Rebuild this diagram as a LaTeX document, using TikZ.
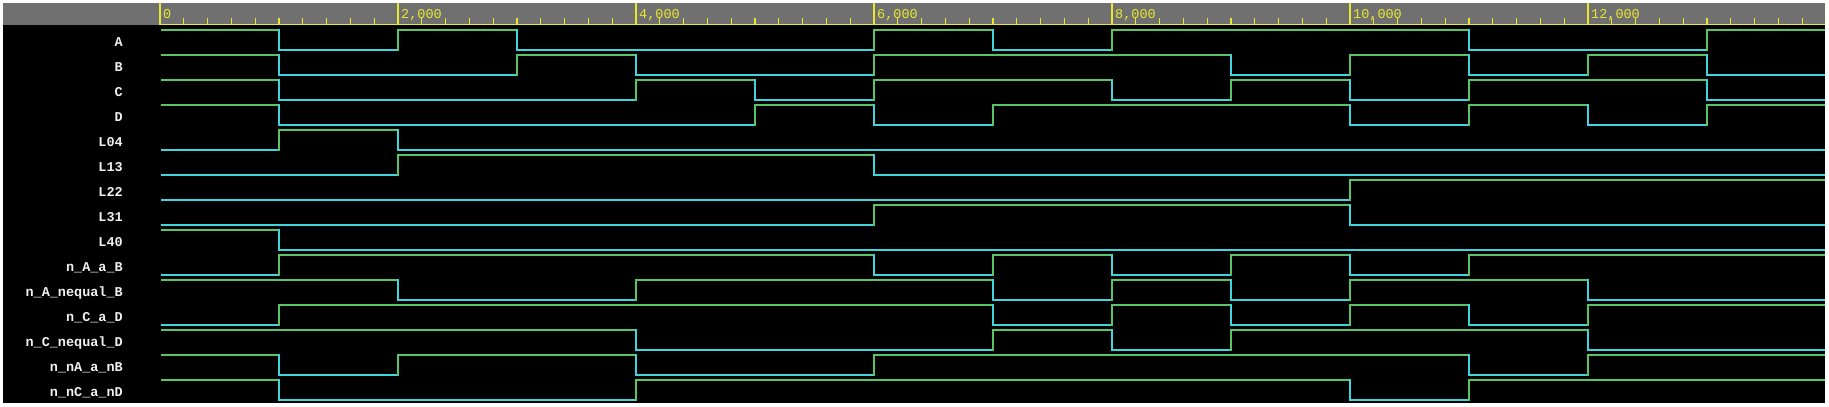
\documentclass[tikz,border=0pt]{standalone}
\usepackage{fontspec}
\newfontfamily\wavefont{Liberation Mono}
\definecolor{hicol}{RGB}{88,196,100}
\definecolor{locol}{RGB}{64,212,220}
\definecolor{rulergray}{RGB}{112,112,112}
\definecolor{ruleryellow}{RGB}{232,232,48}
\definecolor{labwhite}{RGB}{240,240,240}
\tikzset{
  hiline/.style={draw=hicol, line width=1.3pt, line cap=rect},
  loline/.style={draw=locol, line width=1.3pt, line cap=rect},
  sigtext/.style={anchor=base east, text=labwhite, font=\wavefont\bfseries\fontsize{13.5}{14}\selectfont, inner sep=0pt},
  rulertext/.style={anchor=base west, text=ruleryellow, font=\wavefont\fontsize{13.5}{14}\selectfont, inner sep=0pt},
  minortick/.style={draw=ruleryellow, line width=1.2pt},
  majortick/.style={draw=ruleryellow, line width=1.6pt}
}
\newcommand\drawwave[2]{%
  \foreach \b [count=\i from 0, remember=\b as \p (initially 9)] in {#2} {
    \pgfmathsetmacro\xa{160+119*\i}
    \pgfmathsetmacro\xb{160+119*(\i+1)}
    \pgfmathsetmacro\yh{30+25*#1}
    \pgfmathsetmacro\yl{50+25*#1}
    \ifnum\b=1 \draw[hiline] (\xa,\yh) -- (\xb,\yh); \else \draw[loline] (\xa,\yl) -- (\xb,\yl); \fi
    \ifnum\p<2 \ifnum\p=\b\else
      \ifnum\b=1 \draw[hiline] (\xa,\yl) -- (\xa,\yh); \else \draw[loline] (\xa,\yh) -- (\xa,\yl); \fi
    \fi\fi
  }}
\begin{document}
\begin{tikzpicture}[x=1pt, y=-1pt]
  \useasboundingbox (0,0) rectangle (1829,407);
  \fill[white] (0,0) rectangle (1829,407);
  \fill[black] (3,3) rectangle (1825,403);
  \fill[rulergray] (3,3) rectangle (1825,25);
  % ruler
  \begin{scope}
    \clip (3,3) rectangle (1825,403);
    \foreach \t in {0,...,70} {
      \pgfmathsetmacro\xt{160+23.8*\t}
      \draw[minortick] (\xt,18) -- (\xt,25);
    }
    \foreach \t in {0,...,7} {
      \pgfmathsetmacro\xt{160+238*\t}
      \draw[majortick] (\xt,3) -- (\xt,25);
    }
    \draw[majortick] (160,24.5) -- (1825,24.5);
  \end{scope}
  \node[rulertext] (r0) at (163,18.3) {0};
  \node[rulertext] (r2) at (401,18.3) {2,000};
  \node[rulertext] (r4) at (639,18.3) {4,000};
  \node[rulertext] (r6) at (877,18.3) {6,000};
  \node[rulertext] (r8) at (1115,18.3) {8,000};
  \node[rulertext] (r10) at (1353,18.3) {10,000};
  \node[rulertext] (r12) at (1591,18.3) {12,000};
  % labels
  \node[sigtext] (l0) at (123,46.6) {A};
  \node[sigtext] (l1) at (123,71.6) {B};
  \node[sigtext] (l2) at (123,96.6) {C};
  \node[sigtext] (l3) at (123,121.6) {D};
  \node[sigtext] (l4) at (123,146.6) {L04};
  \node[sigtext] (l5) at (123,171.6) {L13};
  \node[sigtext] (l6) at (123,196.6) {L22};
  \node[sigtext] (l7) at (123,221.6) {L31};
  \node[sigtext] (l8) at (123,246.6) {L40};
  \node[sigtext] (l9) at (123,271.6) {n\_A\_a\_B};
  \node[sigtext] (l10) at (123,296.6) {n\_A\_nequal\_B};
  \node[sigtext] (l11) at (123,321.6) {n\_C\_a\_D};
  \node[sigtext] (l12) at (123,346.6) {n\_C\_nequal\_D};
  \node[sigtext] (l13) at (123,371.6) {n\_nA\_a\_nB};
  \node[sigtext] (l14) at (123,396.6) {n\_nC\_a\_nD};
  % waves
  \begin{scope}
    \clip (161,26) rectangle (1825,403);
    \drawwave{0}{1,0,1,0,0,0,1,0,1,1,1,0,0,1}
    \drawwave{1}{1,0,0,1,0,0,1,1,1,0,1,0,1,0}
    \drawwave{2}{1,0,0,0,1,0,1,1,0,1,0,1,1,0}
    \drawwave{3}{1,0,0,0,0,1,0,1,1,1,0,1,0,1}
    \drawwave{4}{0,1,0,0,0,0,0,0,0,0,0,0,0,0}
    \drawwave{5}{0,0,1,1,1,1,0,0,0,0,0,0,0,0}
    \drawwave{6}{0,0,0,0,0,0,0,0,0,0,1,1,1,1}
    \drawwave{7}{0,0,0,0,0,0,1,1,1,1,0,0,0,0}
    \drawwave{8}{1,0,0,0,0,0,0,0,0,0,0,0,0,0}
    \drawwave{9}{0,1,1,1,1,1,0,1,0,1,0,1,1,1}
    \drawwave{10}{1,1,0,0,1,1,1,0,1,0,1,1,0,0}
    \drawwave{11}{0,1,1,1,1,1,1,0,1,0,1,0,1,1}
    \drawwave{12}{1,1,1,1,0,0,0,1,0,1,1,1,0,0}
    \drawwave{13}{1,0,1,1,0,0,1,1,1,1,1,0,1,1}
    \drawwave{14}{1,0,0,0,1,1,1,1,1,1,0,1,1,1}
  \end{scope}
\end{tikzpicture}
\end{document}
